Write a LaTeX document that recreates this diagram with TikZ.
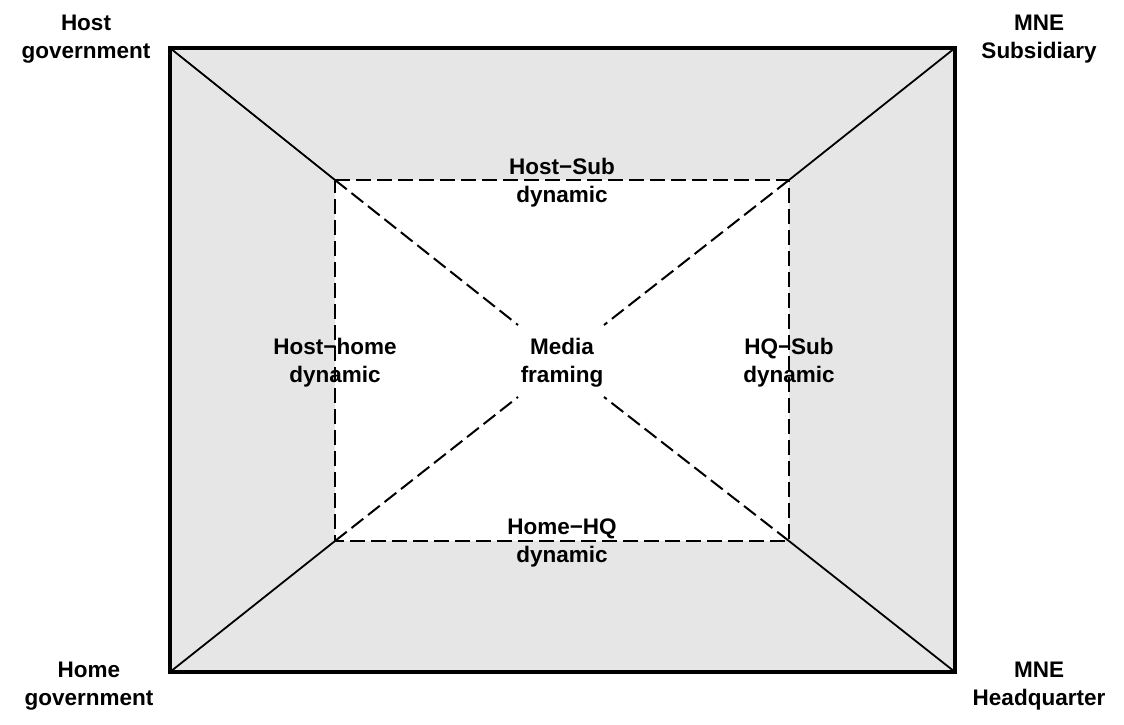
\documentclass[tikz,border=0pt]{standalone}
\usepackage{fontspec}
\setmainfont{Liberation Sans}
\begin{document}
\begin{tikzpicture}[x=1pt,y=-1pt,
  lbl/.style={font=\bfseries\fontsize{22.5}{28}\selectfont,align=center,inner sep=0pt},
  dsh/.style={line width=2pt,dash pattern=on 15pt off 6pt},
  sol/.style={line width=1.8pt}]
\useasboundingbox (0,0) rectangle (1124,725);
\definecolor{bg}{HTML}{E6E6E6}
\coordinate (O1) at (170,48);
\coordinate (O2) at (955,48);
\coordinate (O3) at (955,672);
\coordinate (O4) at (170,672);
\coordinate (I1) at (335,180);
\coordinate (I2) at (789,180);
\coordinate (I3) at (789,541);
\coordinate (I4) at (335,541);
\coordinate (E1) at (518,325);
\coordinate (E2) at (604,325);
\coordinate (E3) at (604,397);
\coordinate (E4) at (518,397);
\fill[bg] (O1) -- (O2) -- (O3) -- (O4) -- cycle;
\fill[white] (I1) -- (I2) -- (I3) -- (I4) -- cycle;
\draw[sol] (O1) -- (I1);
\draw[sol] (O2) -- (I2);
\draw[sol] (O3) -- (I3);
\draw[sol] (O4) -- (I4);
\draw[dsh] (I1) -- (I2) -- (I3) -- (I4) -- cycle;
\draw[dsh] (I1) -- (E1);
\draw[dsh] (I2) -- (E2);
\draw[dsh] (I3) -- (E3);
\draw[dsh] (I4) -- (E4);
\draw[line width=3.5pt] (O1) -- (O2) -- (O3) -- (O4) -- cycle;
\node[lbl] (hg) at (86,39) {Host\\government};
\node[lbl] (ms) at (1039,39) {MNE\\Subsidiary};
\node[lbl] (hmg) at (89,686) {Home\\government};
\node[lbl] (mh) at (1039,686) {MNE\\Headquarter};
\node[lbl] (hs) at (562,183) {Host−Sub\\dynamic};
\node[lbl] (hh) at (335,363) {Host−home\\dynamic};
\node[lbl] (mf) at (562,363) {Media\\framing};
\node[lbl] (qs) at (789,363) {HQ−Sub\\dynamic};
\node[lbl] (hq) at (562,543) {Home−HQ\\dynamic};
\end{tikzpicture}
\end{document}
